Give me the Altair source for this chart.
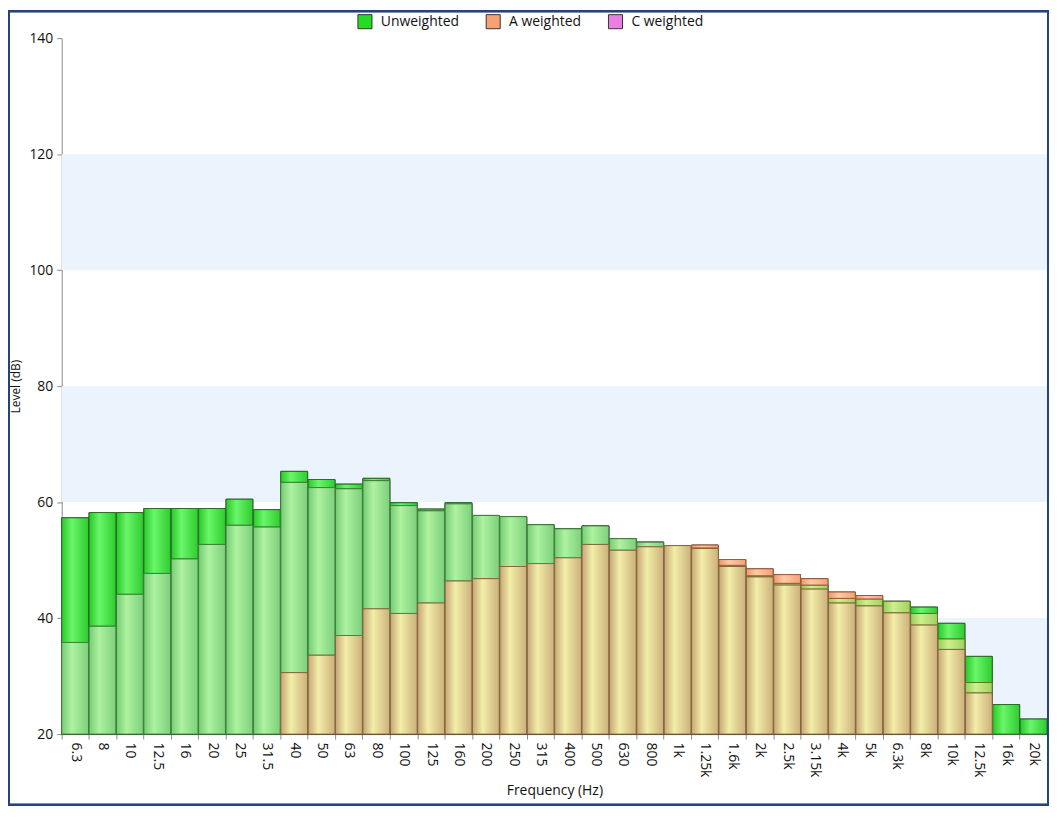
import altair as alt
import pandas as pd

# ---------------- data ----------------
freqs = ["6.3", "8", "10", "12.5", "16", "20", "25", "31.5", "40", "50", "63", "80",
         "100", "125", "160", "200", "250", "315", "400", "500", "630", "800", "1k",
         "1.25k", "1.6k", "2k", "2.5k", "3.15k", "4k", "5k", "6.3k", "8k", "10k",
         "12.5k", "16k", "20k"]

unweighted = [57.3, 58.2, 58.2, 58.9, 58.9, 58.9, 60.5, 58.7, 65.3, 63.9, 63.1, 64.1,
              59.9, 58.8, 59.9, 57.7, 57.5, 56.1, 55.4, 55.9, 53.7, 53.1, 52.5,
              52.1, 49.1, 47.3, 46.0, 45.7, 43.4, 43.3, 42.9, 41.9, 39.1,
              33.4, 25.1, 22.6]

# None = below the 20 dB axis floor (not visible)
a_weighted = [None, None, None, None, None, None, None, None, 30.6, 33.6, 37.0, 41.6,
              40.8, 42.6, 46.4, 46.8, 48.9, 49.4, 50.4, 52.7, 51.7, 52.3, 52.5,
              52.6, 50.1, 48.5, 47.5, 46.8, 44.5, 43.9, 42.9, 40.8, 36.4,
              28.9, None, None]

c_weighted = [35.8, 38.6, 44.1, 47.7, 50.2, 52.7, 56.0, 55.7, 63.4, 62.5, 62.3, 63.7,
              59.4, 58.5, 59.7, 57.7, 57.5, 56.1, 55.4, 55.9, 53.7, 53.1, 52.5,
              52.0, 48.9, 47.1, 45.7, 45.0, 42.6, 42.1, 40.9, 38.8, 34.6,
              27.1, None, None]

series_names = ["Unweighted", "A weighted", "C weighted"]
series_colors = ["#22dd22", "#f9a070", "#e880e4"]

band_lo = [20, 60, 100]
band_hi = [40, 80, 120]

BASE = 20

# ---------------- tables built from the arrays ----------------
long_rows = []
for i, f in enumerate(freqs):
    for name, arr in zip(series_names, [unweighted, a_weighted, c_weighted]):
        if arr[i] is not None:
            long_rows.append({"freq": f, "series": name, "level": arr[i], "base": BASE})
long_df = pd.DataFrame(long_rows)

short = {"Unweighted": "U", "A weighted": "A", "C weighted": "C"}
seg_rows = []
for i, f in enumerate(freqs):
    present = {}
    for name, arr in zip(series_names, [unweighted, a_weighted, c_weighted]):
        if arr[i] is not None:
            present[name] = arr[i]
    levels = sorted(set([BASE] + list(present.values())))
    for lo, hi in zip(levels[:-1], levels[1:]):
        members = "".join(short[n] for n in series_names if present.get(n, -1) >= hi)
        seg_rows.append({"freq": f, "lo": lo, "hi": hi, "region": members})
seg_df = pd.DataFrame(seg_rows)

bands_df = pd.DataFrame({"lo": band_lo, "hi": band_hi})

# ---------------- styling ----------------
W, H = 991, 700
PT, PB = 28, 72
FONT = "Segoe UI, Open Sans, Noto Sans, sans-serif"

def grad(edge_l, mid, edge_r):
    return alt.LinearGradient(
        gradient="linear", x1=0, x2=1, y1=0, y2=0,
        stops=[alt.GradientStop(offset=0, color=edge_l),
               alt.GradientStop(offset=0.38, color=mid),
               alt.GradientStop(offset=1, color=edge_r)])

region_style = {
    "U":   (grad("#28c828", "#6af66a", "#2ecc2e"), "#2a6e2a"),
    "UC":  (grad("#74cc74", "#aef2a0", "#7cd07c"), "#3f7f38"),
    "UA":  (grad("#98cc58", "#cdf08c", "#a0d060"), "#5a7a2a"),
    "UAC": (grad("#c6a676", "#f2eea8", "#ccb07a"), "#86683e"),
    "A":   (grad("#ee9670", "#ffcaa4", "#f2a078"), "#9a5c36"),
    "AC":  (grad("#d9a0b0", "#f8d0d8", "#dca4b4"), "#8a5060"),
    "C":   (grad("#d070d0", "#f4b0f0", "#d478d4"), "#804080"),
}

x_enc = alt.X("freq:N", sort=freqs,
              scale=alt.Scale(paddingInner=0.02, paddingOuter=0.0),
              axis=alt.Axis(title="Frequency (Hz)", labelAngle=90, tickBand="extent",
                            tickSize=5, labelPadding=3, labelFontSize=14,
                            titleFontSize=14, titlePadding=7, titleFontWeight="normal",
                            domainColor="#7f8ea3", tickColor="#7f8ea3",
                            labelColor="#111111", titleColor="#111111"))

y_scale = alt.Scale(domain=[20, 140], nice=False, zero=False)

# background bands
bands = alt.Chart(bands_df).mark_rect(color="#ebf3fd").encode(
    y=alt.Y("lo:Q", scale=y_scale,
            axis=alt.Axis(title="Level (dB)", values=[20, 40, 60, 80, 100, 120, 140],
                          tickSize=5, labelFontSize=14, labelPadding=4,
                          titleFontSize=12, titleFontWeight="normal", titlePadding=6,
                          domainColor="#888888", tickColor="#888888",
                          labelColor="#111111", titleColor="#111111")),
    y2="hi:Q",
)

# hidden series bars (drive the legend; completely covered by the segments)
legend_bars = alt.Chart(long_df).mark_bar(stroke="#333333", strokeWidth=1).encode(
    x=x_enc,
    y=alt.Y("level:Q", scale=y_scale),
    y2="base:Q",
    color=alt.Color("series:N",
                    scale=alt.Scale(domain=series_names, range=series_colors),
                    legend=alt.Legend(title=None, orient="none", legendX=297, legendY=-25,
                                      direction="horizontal", symbolType="square",
                                      symbolSize=200, symbolStrokeColor="#333333",
                                      symbolStrokeWidth=1, symbolOpacity=1,
                                      labelFontSize=14, labelOffset=8,
                                      columnPadding=24, labelColor="#111111")),
)

seg_layers = []
for region in ["U", "UC", "UA", "UAC", "A", "AC", "C"]:
    fill, stroke = region_style[region]
    if (seg_df["region"] == region).any():
        seg_layers.append(
            alt.Chart(seg_df).transform_filter(alt.datum.region == region)
            .mark_bar(fill=fill, stroke=stroke, strokeWidth=1)
            .encode(x=x_enc, y=alt.Y("hi:Q", scale=y_scale), y2="lo:Q")
        )

# outer frame
frame = alt.Chart(bands_df).mark_rect(filled=False, stroke="#24437a", strokeWidth=2).encode(
    x=alt.value(-53), x2=alt.value(W + 1), y=alt.value(-(PT - 1)), y2=alt.value(H + PB - 1)
)

chart = alt.layer(bands, legend_bars, *seg_layers, frame).properties(
    width=W, height=H,
    autosize=alt.AutoSizeParams(type="none"),
    padding={"left": 54, "top": PT, "right": 2, "bottom": PB},
).configure(font=FONT).configure_view(stroke=None).configure_axis(grid=False)

chart.save("out.html", embed_options={"renderer": "svg", "actions": False})
